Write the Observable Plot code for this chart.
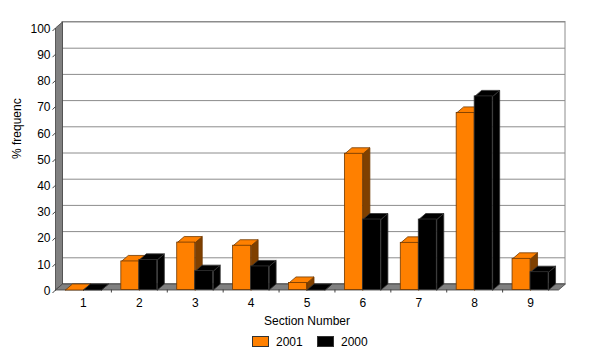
<!DOCTYPE html>
<html><head><meta charset="utf-8">
<script src="https://cdn.jsdelivr.net/npm/d3@7"></script>
<script src="https://cdn.jsdelivr.net/npm/@observablehq/plot@0.6"></script>
<style>
body{margin:0;background:#fff;font-family:"Liberation Sans",Arial,sans-serif}
#wrap{position:relative;width:600px;height:358px;overflow:hidden}
#legend{position:absolute;top:330px;left:0;width:600px;height:28px}
.sw{position:absolute;top:6px;width:15px;height:9px;border:1px solid #333}
.lt{position:absolute;top:5px;font-size:12px;color:#000;line-height:14px}
</style></head><body><div id="wrap"><div id="chart"></div><div id="legend"></div></div>
<script>
const categories = [1, 2, 3, 4, 5, 6, 7, 8, 9];
const seriesNames = ["2001", "2000"];
const values2001 = [0, 10.9, 18.1, 16.9, 2.7, 52.0, 18.0, 67.6, 11.9];
const values2000 = [0, 11.5, 7.2, 9.0, 0, 26.9, 26.9, 73.9, 6.8];
const yTicks = [0, 10, 20, 30, 40, 50, 60, 70, 80, 90, 100];
const xLabel = "Section Number";
const yLabel = "% frequenc";

const palette = {
  "2001": {front: "#ff8000", top: "#ff8000", side: "#7f4000", stroke: "#703800"},
  "2000": {front: "#000000", top: "#000000", side: "#000000", stroke: "#333333"}
};

const W = 600, H = 330, mL = 55, mR = 42, mT = 27.5, mB = 40.5;
const kx = (W - mL - mR) / categories.length;
const ky = (H - mT - mB) / 100;
const wallDX = 7 / kx, wallDY = 6 / ky;
const barDX = 7 / kx, barDY = 6 / ky;
const barW = 18 / kx;
const x0 = 0.5, x9 = categories.length + 0.5;

const valuesBySeries = {"2001": values2001, "2000": values2000};
function barsFor(s, si) {
  return categories.map((c, i) => {
    const x1 = si === 0 ? c - barW : c;
    return {c, s, v: valuesBySeries[s][i], x1, x2: x1 + barW};
  });
}
function topPoly(bars) {
  return bars.flatMap((b, i) => [
    [b.x1, b.v], [b.x1 + barDX, b.v + barDY], [b.x2 + barDX, b.v + barDY], [b.x2, b.v], [b.x1, b.v]
  ].map(([x, y]) => ({id: i, x, y})));
}
function sidePoly(bars) {
  return bars.flatMap((b, i) => [
    [b.x2, 0], [b.x2, b.v], [b.x2 + barDX, b.v + barDY], [b.x2 + barDX, barDY], [b.x2, 0]
  ].map(([x, y]) => ({id: i, x, y})));
}

const floor = [[x0, 0], [x9, 0], [x9 + wallDX, wallDY], [x0 + wallDX, wallDY], [x0, 0]].map(([x, y]) => ({x, y}));
const leftWall = [[x0, 0], [x0, 100], [x0 + wallDX, 100 + wallDY], [x0 + wallDX, wallDY], [x0, 0]].map(([x, y]) => ({x, y}));

const barMarks = seriesNames.flatMap((s, si) => {
  const bars = barsFor(s, si);
  const p = palette[s];
  return [
    Plot.line(sidePoly(bars), {x: "x", y: "y", z: "id", fill: p.side, stroke: p.stroke, strokeWidth: 0.8, curve: "linear"}),
    Plot.line(topPoly(bars), {x: "x", y: "y", z: "id", fill: p.top, stroke: p.stroke, strokeWidth: 0.8, curve: "linear"}),
    Plot.rectY(bars, {x1: "x1", x2: "x2", y1: 0, y2: "v", fill: p.front, stroke: p.stroke, strokeWidth: 0.8})
  ];
});

const chart = Plot.plot({
  width: W, height: H,
  marginLeft: mL, marginRight: mR, marginTop: mT, marginBottom: mB,
  style: {fontFamily: "'Liberation Sans', Arial, sans-serif", fontSize: "12px", color: "#000", background: "#fff"},
  x: {domain: [x0, x9], axis: null},
  y: {domain: [0, 100], axis: null},
  marks: [
    Plot.rect([0], {x1: x0 + wallDX, x2: x9 + wallDX, y1: wallDY, y2: 100 + wallDY, fill: "#fff"}),
    Plot.ruleY(yTicks, {x1: x0 + wallDX, x2: x9 + wallDX, y: d => d + wallDY, stroke: "#8c8c8c", strokeWidth: 1}),
    Plot.rect([0], {x1: x0 + wallDX, x2: x9 + wallDX, y1: wallDY, y2: 100 + wallDY, fill: "none", stroke: "#8c8c8c"}),
    Plot.line(leftWall, {x: "x", y: "y", fill: "#808080", stroke: "#404040", strokeWidth: 0.8}),
    Plot.line(floor, {x: "x", y: "y", fill: "#808080", stroke: "#404040", strokeWidth: 0.8}),
    Plot.link(yTicks, {x1: x0 - 3 / kx, y1: d => d - 3 / ky, x2: x0, y2: d => d, stroke: "#404040"}),
    Plot.ruleX(categories.slice(1).map(c => c - 0.5), {y1: 0, y2: -3 / ky, stroke: "#404040"}),
    ...barMarks,
    Plot.axisY(yTicks, {tickSize: 0, tickPadding: 5, label: null, fontSize: 12, dy: 1}),
    Plot.axisX(categories, {tickSize: 0, tickPadding: 8, label: null, fontSize: 12}),
    Plot.text([xLabel], {frameAnchor: "bottom", dy: 35, fontSize: 12, text: d => d}),
    Plot.text([yLabel], {frameAnchor: "left", dx: -38, rotate: -90, fontSize: 12, text: d => d})
  ]
});
document.getElementById("chart").appendChild(chart);

const legend = document.getElementById("legend");
const legendPos = [{sw: 252, t: 276}, {sw: 317, t: 341}];
seriesNames.forEach((s, i) => {
  const sw = document.createElement("div");
  sw.className = "sw";
  sw.style.left = legendPos[i].sw + "px";
  sw.style.background = palette[s].front;
  legend.appendChild(sw);
  const t = document.createElement("div");
  t.className = "lt";
  t.style.left = legendPos[i].t + "px";
  t.textContent = s;
  legend.appendChild(t);
});
</script></body></html>
